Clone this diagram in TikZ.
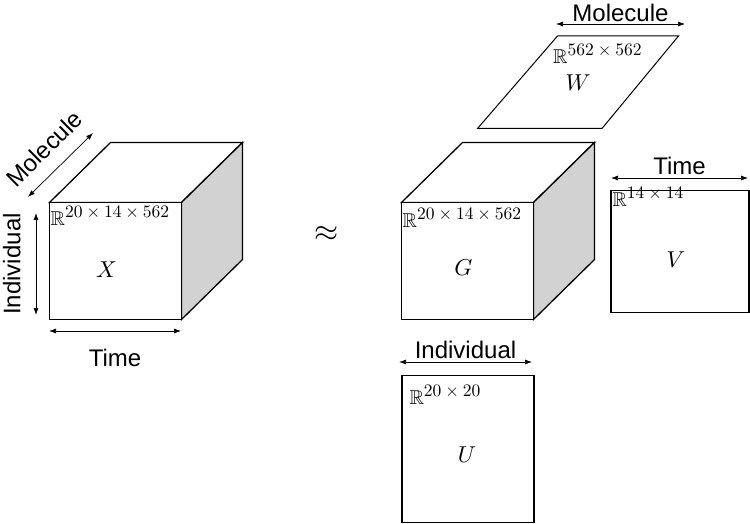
\documentclass[tikz,border=0pt]{standalone}
\usepackage{fontspec}
\setsansfont{Liberation Sans}
\usepackage{amsmath,amssymb}
\usepackage{graphicx}
\usetikzlibrary{arrows.meta,positioning}

\newcommand{\realdim}[1]{\scalebox{2}{$\mathbb{R}$}\raisebox{8pt}{\scalebox{1.75}{$#1$}}}

\begin{document}
\begin{tikzpicture}[x=1pt,y=-1pt,
    face/.style={draw,line width=1.3pt,fill=white,line join=miter},
    side/.style={draw,line width=1.3pt,fill=gray!35},
    sqbox/.style={draw,line width=1.3pt,fill=white,inner sep=0pt},
    dimarrow/.style={{Latex[length=7pt,width=5pt]}-{Latex[length=7pt,width=5pt]},line width=0.7pt},
    axislabel/.style={font=\sffamily\fontsize{24}{24}\selectfont,inner sep=2pt},
    spacelabel/.style={inner sep=1pt,anchor=north west},
    factor/.style={inner sep=0pt}]
\useasboundingbox (0,0) rectangle (750,524);

% Define the cubes X and G (front face, depth offset 61,-60)
\foreach \cx/\nm in {49.5/X,401.5/G} {
    \coordinate (\nm-fnw) at (\cx,202.5);
    \coordinate (\nm-fne) at (\cx+132,202.5);
    \coordinate (\nm-fse) at (\cx+132,319.5);
    \coordinate (\nm-fsw) at (\cx,319.5);
    \coordinate (\nm-bnw) at (\cx+61,142.5);
    \coordinate (\nm-bne) at (\cx+193,142.5);
    \coordinate (\nm-bse) at (\cx+193,259.5);
    \draw[face] (\nm-fnw) -- (\nm-bnw) -- (\nm-bne) -- (\nm-fne) -- cycle;
    \draw[side] (\nm-fne) -- (\nm-bne) -- (\nm-bse) -- (\nm-fse) -- cycle;
    \draw[face] (\nm-fnw) rectangle (\nm-fse);
}
\node[factor] (X) at (106.5,269.5) {\scalebox{2.3}{$X$}};
\node[factor] (G) at (463.5,268) {\scalebox{2.3}{$G$}};
\node[spacelabel] (X-dim) at ([yshift=-2.5pt]X-fnw) {\realdim{20\times14\times562}};
\node[spacelabel] (G-dim) at ([yshift=-5pt]G-fnw) {\realdim{20\times14\times562}};

% Dimension arrows of X
\coordinate (Xi-b) at (36,315);
\coordinate (Xi-t) at (36,213);
\coordinate (Xt-l) at (49,331);
\coordinate (Xt-r) at (181,331);
\coordinate (Xm-b) at (28,197);
\coordinate (Xm-t) at (93,133);
\draw[dimarrow] (Xi-b) -- node[axislabel,above=13pt,sloped] (Xi-lab) {Individual} (Xi-t);
\draw[dimarrow] (Xt-l) -- node[axislabel,below=16pt] (Xt-lab) {Time} (Xt-r);
\draw[dimarrow] (Xm-b) -- node[axislabel,above=12pt,sloped] (Xm-lab) {Molecule} (Xm-t);

% Approximately equal
\node[inner sep=0pt] (approx) at (326.5,234) {\scalebox{3.1}{$\approx$}};

% Factor W (parallelogram)
\coordinate (W-nw) at (557.5,36);
\coordinate (W-ne) at (678.5,36);
\coordinate (W-se) at (602,128.5);
\coordinate (W-sw) at (477.5,128.5);
\draw[face,line width=1pt] (W-nw) -- (W-ne) -- (W-se) -- (W-sw) -- cycle;
\node[spacelabel] (W-dim) at (552,43) {\realdim{562\times562}};
\node[factor] (W) at (578,83) {\scalebox{2.3}{$W$}};
\coordinate (Wm-l) at (556,24);
\coordinate (Wm-r) at (685,24);
\draw[dimarrow] (Wm-l) -- node[axislabel,above=0pt] (Wm-lab) {Molecule} (Wm-r);

% Factor V
\node[sqbox,minimum width=138pt,minimum height=121.5pt] (V-box) at (680,251.5) {};
\node[spacelabel] (V-dim) at ([xshift=1pt,yshift=4pt]V-box.north west) {\realdim{14\times14}};
\node[factor] (V) at (676,260) {\scalebox{2.3}{$V$}};
\coordinate (Vt-l) at (611,178);
\coordinate (Vt-r) at (748,178);
\draw[dimarrow] (Vt-l) -- node[axislabel,above=1pt] (Vt-lab) {Time} (Vt-r);

% Factor U
\node[sqbox,minimum width=132pt,minimum height=147pt] (U-box) at (468,449.3) {};
\node[spacelabel] (U-dim) at ([xshift=7pt,yshift=-9pt]U-box.north west) {\realdim{20\times20}};
\node[factor] (U) at (467,455) {\scalebox{2.3}{$U$}};
\coordinate (Ui-l) at (399,362);
\coordinate (Ui-r) at (532,362);
\draw[dimarrow] (Ui-l) -- node[axislabel,above=1pt] (Ui-lab) {Individual} (Ui-r);
\end{tikzpicture}
\end{document}
